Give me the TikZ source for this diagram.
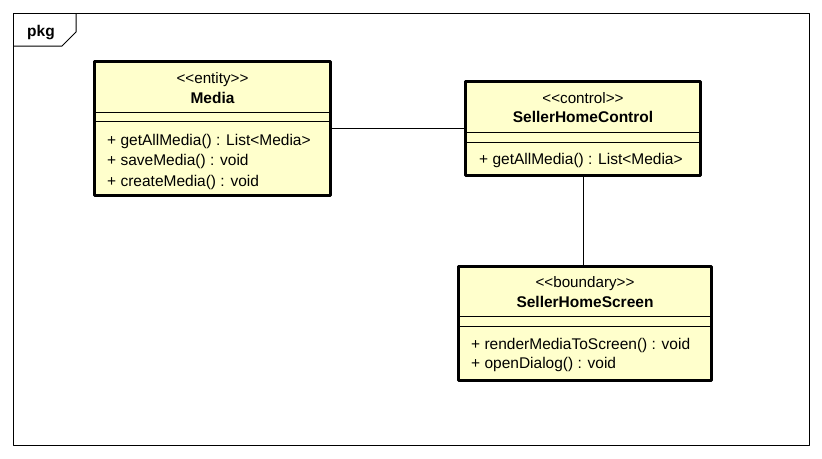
\documentclass[tikz,border=0pt]{standalone}
\usepackage{fontspec}
\setmainfont{Liberation Sans}
\definecolor{classfill}{RGB}{255,255,204}
\begin{document}
\begin{tikzpicture}[x=1pt, y=-1pt, line join = round,
  classbox/.style={draw, line width=3pt, fill=classfill, inner sep=0pt},
  stereo/.style={anchor=base, inner sep=0pt, font=\fontsize{15.2}{18}\selectfont},
  cname/.style={anchor=base, inner sep=0pt, font=\fontsize{15.5}{18}\selectfont\bfseries},
  member/.style={anchor=base west, inner sep=0pt, font=\fontsize{15.5}{18}\selectfont},
  thinline/.style={line width=1pt}]
\useasboundingbox (0,0) rectangle (822,458);

% package frame
\draw[thinline] (13,13) rectangle (809,445);
\coordinate (tabA) at (13,46);
\coordinate (tabB) at (62,46);
\coordinate (tabC) at (76,32);
\coordinate (tabD) at (76,13);
\draw[thinline] (tabA) -- (tabB) -- (tabC) -- (tabD);
\node[cname] (pkg) at (41,36) {pkg};

% classes
\node[classbox, minimum width=236pt, minimum height=134pt] (media) at (212.5,128.5) {};
\node[classbox, minimum width=235pt, minimum height=94pt] (control) at (583,128.5) {};
\node[classbox, minimum width=253pt, minimum height=114pt] (screen) at (585,323.5) {};

% compartments
\foreach \c/\y in {media/112, media/121, control/132, control/142, screen/316, screen/326}
    \draw[thinline] (\c.west |- 0,\y) -- (\c.east |- 0,\y);

\node[stereo] (mediaStereo) at (212.5,83) {<{}<entity>{}>};
\node[cname]  (mediaName)   at (212.5,103) {Media};
\node[member] (mediaOpA) at (107,145) {+ getAllMedia() : List<Media>};
\node[member] (mediaOpB) at (107,165.5) {+ saveMedia() : void};
\node[member] (mediaOpC) at (107,186) {+ createMedia() : void};

\node[stereo] (controlStereo) at (583,103) {<{}<control>{}>};
\node[cname]  (controlName)   at (583,122.5) {SellerHomeControl};
\node[member] (controlOpA) at (479,164.5) {+ getAllMedia() : List<Media>};

\node[stereo] (screenStereo) at (585,287.5) {<{}<boundary>{}>};
\node[cname]  (screenName)   at (585,307.5) {SellerHomeScreen};
\node[member] (screenOpA) at (471,349) {+ renderMediaToScreen() : void};
\node[member] (screenOpB) at (471,368.5) {+ openDialog() : void};

% associations
\draw[thinline] (media) -- (control);
\draw[thinline] (control.south) -- (control.south |- screen.north);

\end{tikzpicture}
\end{document}
